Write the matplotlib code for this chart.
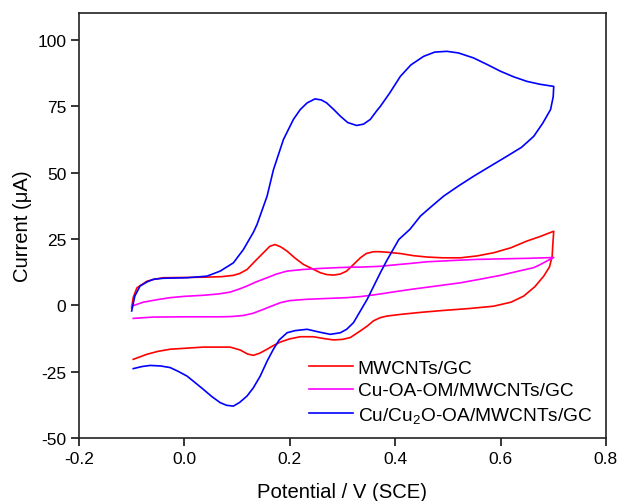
import matplotlib
matplotlib.use('Agg')
import matplotlib.pyplot as plt

plt.rcParams['font.family'] = ['Liberation Sans', 'DejaVu Sans']
plt.rcParams['mathtext.default'] = 'regular'

# MWCNTs/GC: forward scan -0.1 -> 0.7 V, then back to -0.1 V
E_mwcnt = [-0.100, -0.097, -0.090, -0.071, -0.055, -0.040, 0.000, 0.036, 0.070, 0.093,
           0.105, 0.119, 0.135, 0.150, 0.162, 0.172, 0.183, 0.195, 0.210, 0.226,
           0.258, 0.270, 0.283, 0.296, 0.308, 0.320, 0.334, 0.345, 0.359, 0.370,
           0.385, 0.410, 0.435, 0.460, 0.490, 0.524, 0.555, 0.587, 0.620, 0.650,
           0.675, 0.701,
           0.699, 0.698, 0.693, 0.682, 0.665, 0.644, 0.620, 0.587, 0.540, 0.492,
           0.450, 0.410, 0.385, 0.372, 0.359, 0.347, 0.334, 0.315, 0.300, 0.283,
           0.265, 0.245, 0.220, 0.200, 0.182, 0.170, 0.157, 0.143, 0.131, 0.120,
           0.106, 0.087, 0.036, -0.027, -0.050, -0.071, -0.097]
I_mwcnt = [-0.9, 3.0, 6.6, 9.1, 9.9, 10.4, 10.5, 10.6, 10.8, 11.3,
           12.0, 13.5, 16.8, 19.8, 22.2, 22.9, 22.0, 20.4, 17.8, 15.4,
           12.3, 11.6, 11.4, 11.8, 12.9, 15.2, 17.9, 19.5, 20.2, 20.2,
           20.0, 19.5, 18.7, 18.2, 17.9, 17.9, 18.6, 19.8, 21.7, 24.2,
           25.9, 27.9,
           22.0, 18.5, 14.5, 11.0, 7.0, 3.5, 1.2, -0.3, -1.2, -1.9,
           -2.6, -3.4, -4.0, -4.6, -5.8, -7.8, -9.6, -12.1, -12.8, -13.0,
           -12.5, -11.8, -11.8, -12.6, -13.8, -15.0, -16.5, -18.0, -18.8, -18.3,
           -16.8, -15.7, -15.7, -16.5, -17.3, -18.4, -20.3]

# Cu-OA-OM/MWCNTs/GC
E_cuoa = [-0.100, -0.078, -0.050, -0.027, 0.000, 0.036, 0.065, 0.087, 0.105, 0.119,
          0.137, 0.157, 0.175, 0.195, 0.225, 0.258, 0.290, 0.321, 0.334, 0.372,
          0.397, 0.430, 0.460, 0.510, 0.555, 0.600, 0.650, 0.701,
          0.688, 0.675, 0.663, 0.630, 0.600, 0.560, 0.524, 0.475, 0.429, 0.395,
          0.365, 0.334, 0.308, 0.270, 0.233, 0.200, 0.182, 0.165, 0.150, 0.130,
          0.112, 0.090, 0.068, 0.005, -0.059, -0.097]
I_cuoa = [-0.3, 1.2, 2.2, 2.9, 3.4, 3.8, 4.3, 5.0, 6.2, 7.3,
          8.9, 10.4, 11.8, 12.9, 13.5, 13.9, 14.2, 14.4, 14.4, 14.7,
          15.2, 15.8, 16.4, 16.9, 17.3, 17.5, 17.7, 18.0,
          16.7, 15.3, 14.2, 12.7, 11.3, 9.8, 8.5, 7.2, 6.0, 5.0,
          4.1, 3.3, 2.9, 2.6, 2.3, 1.8, 1.0, -0.3, -1.5, -3.0,
          -3.8, -4.2, -4.3, -4.3, -4.4, -4.9]

# Cu/Cu2O-OA/MWCNTs/GC
E_cu2o = [-0.100, -0.094, -0.084, -0.070, -0.059, -0.040, 0.005, 0.043, 0.068, 0.093,
          0.112, 0.131, 0.138, 0.157, 0.169, 0.188, 0.207, 0.220, 0.233, 0.248,
          0.260, 0.270, 0.283, 0.296, 0.310, 0.327, 0.340, 0.353, 0.365, 0.372,
          0.390, 0.410, 0.430, 0.454, 0.475, 0.498, 0.520, 0.549, 0.575, 0.600,
          0.625, 0.650, 0.675, 0.701,
          0.700, 0.695, 0.680, 0.663, 0.640, 0.612, 0.580, 0.549, 0.520, 0.492,
          0.470, 0.448, 0.428, 0.407, 0.384, 0.372, 0.347, 0.321, 0.308, 0.296,
          0.277, 0.255, 0.233, 0.210, 0.195, 0.180, 0.169, 0.157, 0.144, 0.131,
          0.119, 0.105, 0.093, 0.080, 0.068, 0.052, 0.036, 0.020, 0.005, -0.012,
          -0.027, -0.045, -0.065, -0.080, -0.097]
I_cu2o = [-2.1, 3.5, 7.3, 8.9, 9.8, 10.2, 10.4, 11.0, 12.9, 16.0,
          21.0, 27.5, 30.5, 41.1, 51.0, 62.4, 70.0, 73.7, 76.2, 77.7,
          77.3, 76.2, 73.8, 71.2, 68.8, 67.7, 68.2, 70.0, 73.2, 74.9,
          80.0, 86.2, 90.5, 93.7, 95.3, 95.6, 95.0, 93.1, 90.6, 88.1,
          86.0, 84.3, 83.2, 82.4,
          78.5, 73.7, 68.5, 63.6, 59.5, 56.1, 52.3, 48.6, 44.9, 41.1,
          37.4, 33.6, 28.6, 24.8, 16.8, 12.3, 2.3, -6.5, -9.0, -10.3,
          -10.9, -10.0, -9.0, -9.5, -10.3, -13.0, -16.5, -21.0, -26.6, -31.0,
          -34.1, -36.5, -37.9, -37.6, -36.6, -34.3, -31.6, -29.0, -26.6, -24.8,
          -23.4, -22.8, -22.6, -23.0, -23.8]

labels = ['MWCNTs/GC', 'Cu-OA-OM/MWCNTs/GC', 'Cu/Cu$_2$O-OA/MWCNTs/GC']
colors = ['#ff0000', '#ff00ff', '#0000ff']

fig = plt.figure(figsize=(6.17, 5.02), dpi=100)
ax = fig.add_axes([0.128, 0.125, 0.854, 0.847])

for E, I, lab, c in zip([E_mwcnt, E_cuoa, E_cu2o], [I_mwcnt, I_cuoa, I_cu2o], labels, colors):
    ax.plot(E, I, color=c, lw=1.2, label=lab)

ax.set_xlim(-0.2, 0.8)
ax.set_ylim(-50, 110)
ax.set_xticks([-0.2, 0.0, 0.2, 0.4, 0.6, 0.8])
ax.set_xticklabels(['-0.2', '0.0', '0.2', '0.4', '0.6', '0.8'])
ax.set_yticks([-50, -25, 0, 25, 50, 75, 100])
ax.set_yticklabels(['-50', '-25', '0', '25', '50', '75', '100'])
ax.tick_params(direction='out', length=6, width=1.1, labelsize=12.5, pad=3,
               top=False, right=False)
for sp in ax.spines.values():
    sp.set_linewidth(1.2)
    sp.set_color('#222222')

ax.set_xlabel('Potential / V (SCE)', fontsize=14.6, labelpad=12)
ax.set_ylabel('Current (μA)', fontsize=14.6, labelpad=4)

ax.legend(loc='lower right', bbox_to_anchor=(1.0, 0.0), frameon=False,
          fontsize=13.8, handlelength=2.3, handletextpad=0.25,
          labelspacing=0.28, borderaxespad=0.3)

plt.savefig('out.png', dpi=100)
